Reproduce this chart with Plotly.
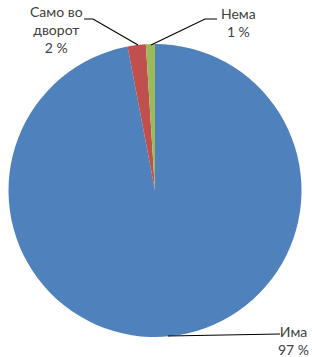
import plotly.graph_objects as go

labels = ["Има", "Само во дворот", "Нема"]
values = [97, 2, 1]
label_texts = ["Има<br>97 %", "Само во<br>дворот<br>2 %", "Нема<br>1 %"]
colors = ["#4F81BD", "#C0504D", "#9BBB59"]

W, H = 312, 357

def px(x):
    return x / W

def py(y):
    return 1 - y / H

fig = go.Figure(go.Pie(
    labels=labels,
    values=values,
    sort=False,
    direction="clockwise",
    rotation=0,
    textinfo="none",
    hoverinfo="label+percent",
    marker=dict(colors=colors, line=dict(width=0)),
    domain=dict(x=[px(6), px(304)], y=[py(337), py(44)]),
    showlegend=False,
))

font = dict(family="Lato, Open Sans, sans-serif", size=14, color="#404040")
ann_specs = [
    (label_texts[0], 311, 340, "right"),
    (label_texts[1], 56, 29, "center"),
    (label_texts[2], 238, 23, "center"),
]
annotations = []
for t, x, y, anchor in ann_specs:
    annotations.append(dict(
        text=t, x=px(x), y=py(y), xref="paper", yref="paper",
        xanchor=anchor, yanchor="middle", align="center",
        showarrow=False, font=font,
    ))

leaders = [
    [(168, 336), (280, 334)],
    [(138, 45), (93, 19), (84, 19)],
    [(151, 45), (205, 19), (217, 19)],
]
shapes = []
for pts in leaders:
    path = "M " + " L ".join(f"{px(x)},{py(y)}" for x, y in pts)
    shapes.append(dict(type="path", path=path, xref="paper", yref="paper",
                       line=dict(color="#000000", width=1.2)))

fig.update_layout(
    width=W, height=H,
    margin=dict(l=0, r=0, t=0, b=0),
    paper_bgcolor="white", plot_bgcolor="white",
    annotations=annotations, shapes=shapes,
)

fig.write_html(
    "out.html",
    config={"displayModeBar": False},
    post_script="document.body.style.margin='0';document.body.style.overflow='hidden';",
)
